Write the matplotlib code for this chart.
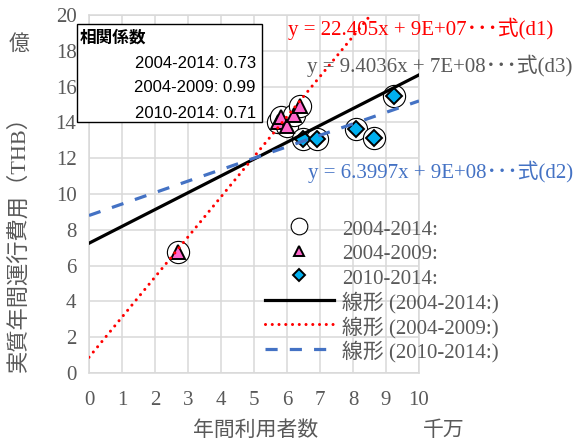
import numpy as np
import matplotlib.pyplot as plt
from matplotlib.patches import Rectangle

W, H = 582, 441

# 年間利用者数 (千万人) と 実質年間運行費用 (億THB)
users_0409 = [2.71, 5.72, 5.81, 5.99, 6.20, 6.40]
cost_0409 = [6.74, 14.00, 14.30, 13.80, 14.40, 14.90]
users_1014 = [6.49, 6.90, 8.08, 8.65, 9.24]
cost_1014 = [13.06, 13.06, 13.61, 13.15, 15.47]
users_all = users_0409 + users_1014
cost_all = cost_0409 + cost_1014

# 近似直線 (元の単位: 人 -> THB)
trend_names = ['2004-2014:', '2004-2009:', '2010-2014:']
trend_slope = [9.4036, 22.405, 6.3997]
trend_icpt = [7.25e8, 0.88e8, 8.8e8]
trend_tag = ['d3', 'd1', 'd2']

corr_names = ['2004-2014', '2004-2009', '2010-2014']
corr_vals = [0.73, 0.99, 0.71]

serif_jp = ['Liberation Serif', 'Noto Sans CJK JP']
gray = '#595959'

fig = plt.figure(figsize=(W / 100, H / 100), dpi=100)
ax = fig.add_axes([89 / W, 1 - 373 / H, (419 - 89) / W, (373 - 15) / H])
ax.set_xlim(0, 10)
ax.set_ylim(0, 20)
ax.set_xticks(range(0, 11))
ax.set_yticks(range(0, 21, 2))
ax.grid(True, color='#d9d9d9', lw=1.1)
ax.set_axisbelow(True)
for sp in ax.spines.values():
    sp.set_color('#d9d9d9')
    sp.set_linewidth(1.1)
ax.tick_params(length=0, labelsize=15, labelcolor=gray)
ax.tick_params(axis='x', pad=13)
ax.tick_params(axis='y', pad=9)
for lbl in ax.get_xticklabels() + ax.get_yticklabels():
    lbl.set_family('Liberation Serif')

ax.plot(users_all, cost_all, 'o', ms=16, mfc='white', mec='black', mew=0.8,
        zorder=3, label='2004-2014:')
ax.plot(users_0409, cost_0409, '^', ms=10, mfc='#FF66CC', mec='black', mew=1.4,
        zorder=4, label='2004-2009:')
ax.plot(users_1014, cost_1014, 'D', ms=8, mfc='#00B0F0', mec='black', mew=1.4,
        zorder=4, label='2010-2014:')

xx = np.array([0.0, 10.0])
styles = [dict(color='black', lw=2.3),
          dict(color='red', lw=2.2, ls=(0, (0.01, 2.2)), dash_capstyle='round'),
          dict(color='#4472C4', lw=2.3, ls=(0, (3.8, 3.8)))]
for name, s, b, st in zip(trend_names, trend_slope, trend_icpt, styles):
    ax.plot(xx, s * xx / 10 + b / 1e8, zorder=5, label='線形 (' + name + ')', **st)

leg = ax.legend(loc='center left', bbox_to_anchor=(265 / W, 1 - 290 / H),
                bbox_transform=fig.transFigure, frameon=False,
                prop={'family': serif_jp, 'size': 15}, handlelength=3.3,
                handleheight=1.16, handletextpad=0.4, labelspacing=0.1,
                borderpad=0, borderaxespad=0, markerscale=0.75)
for t in leg.get_texts():
    t.set_color(gray)

# 近似式
eq_pos = {'d1': (288, 29, 'red'), 'd3': (307, 66, gray), 'd2': (308, 172, '#4472C4')}
for s, b, tag in zip(trend_slope, trend_icpt, trend_tag):
    px, py, c = eq_pos[tag]
    fig.text(px / W, 1 - py / H, f'y = {s:g}x + {b:.0E}･･･式({tag})',
             color=c, fontsize=15, family=serif_jp, va='center', zorder=12)

# 相関係数の枠
fig.patches.append(Rectangle((77 / W, 1 - 122 / H), (262 - 77) / W, (122 - 24) / H,
                             transform=fig.transFigure, fc='white', ec='black',
                             lw=1.0, zorder=10))
fig.text(80 / W, 1 - 38 / H, '相関係数', fontsize=12, family=['Liberation Sans', 'Noto Sans CJK JP'],
         weight='bold', va='center', zorder=11)
for i, (n, v) in enumerate(zip(corr_names, corr_vals)):
    fig.text(256 / W, 1 - (63 + 25 * i) / H, f'{n}: {v:.2f}', fontsize=12,
             family='Liberation Sans', ha='right', va='center', zorder=11)

fig.text(19 / W, 1 - 238 / H, '実質年間運行費用（THB）', rotation=90, fontsize=16,
         family=serif_jp, color=gray, ha='center', va='center')
fig.text(19 / W, 1 - 45 / H, '億', fontsize=15, family=serif_jp, color=gray,
         ha='center', va='center')
fig.text(256 / W, 1 - 431 / H, '年間利用者数', fontsize=15, family=serif_jp,
         color=gray, ha='center', va='center')
fig.text(444 / W, 1 - 431 / H, '千万', fontsize=15, family=serif_jp, color=gray,
         ha='center', va='center')

fig.savefig('out.png', dpi=100)
